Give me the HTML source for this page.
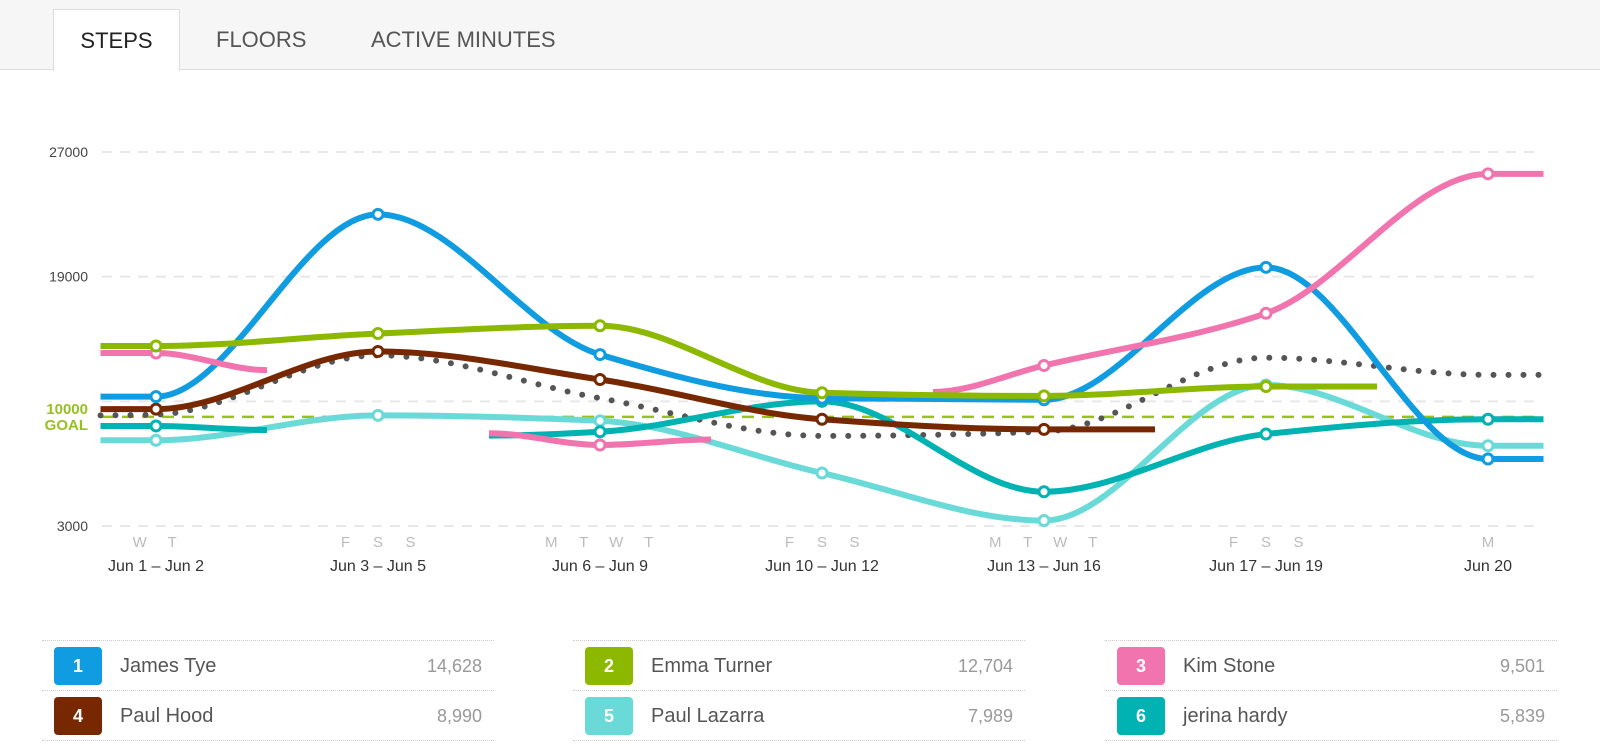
<!DOCTYPE html>
<html><head><meta charset="utf-8"><style>
body{margin:0;width:1600px;height:744px;background:#fff;font-family:"Liberation Sans",sans-serif;overflow:hidden;position:relative}
.tabbar{position:absolute;left:0;top:0;width:1600px;height:69px;background:#f6f6f6;border-bottom:1px solid #ddd}
.tab{position:absolute;top:0;height:69px;line-height:80px;font-size:22px;color:#555}
.tab.active{top:9px;height:61px;line-height:62px;background:#fff;border:1px solid #ddd;border-bottom:none;left:53px;width:125px;text-align:center;color:#222}
.col{position:absolute;width:452px}
.row{position:relative;height:49px;border-top:1px dotted #ccc}
.row:last-child{border-bottom:1px dotted #ccc}
.badge{position:absolute;left:12px;top:6px;width:48px;height:38px;border-radius:4px;color:#fff;font-weight:bold;font-size:18px;text-align:center;line-height:38px}
.nm{position:absolute;left:78px;top:14px;font-size:20px;color:#555}
.val{position:absolute;right:12px;top:15px;font-size:18px;color:#999}
</style></head><body>
<div class="tabbar">
<div class="tab active">STEPS</div>
<div class="tab" style="left:216px">FLOORS</div>
<div class="tab" style="left:371px">ACTIVE MINUTES</div>
</div>
<svg id="chart" width="1600" height="600" style="position:absolute;left:0;top:0"></svg>
<div class="col" style="left:42px;top:640px">
<div class="row"><div class="badge" style="background:#0f9ce0">1</div><div class="nm">James Tye</div><div class="val">14,628</div></div>
<div class="row"><div class="badge" style="background:#772800">4</div><div class="nm">Paul Hood</div><div class="val">8,990</div></div>
</div>
<div class="col" style="left:573px;top:640px">
<div class="row"><div class="badge" style="background:#8cb800">2</div><div class="nm">Emma Turner</div><div class="val">12,704</div></div>
<div class="row"><div class="badge" style="background:#6adad8">5</div><div class="nm">Paul Lazarra</div><div class="val">7,989</div></div>
</div>
<div class="col" style="left:1105px;top:640px">
<div class="row"><div class="badge" style="background:#f274ae">3</div><div class="nm">Kim Stone</div><div class="val">9,501</div></div>
<div class="row"><div class="badge" style="background:#00b2b2">6</div><div class="nm">jerina hardy</div><div class="val">5,839</div></div>
</div>
<script>
const groupLabels=["Jun 1 – Jun 2","Jun 3 – Jun 5","Jun 6 – Jun 9","Jun 10 – Jun 12","Jun 13 – Jun 16","Jun 17 – Jun 19","Jun 20"];
const dayLetters=[["W","T"],["F","S","S"],["M","T","W","T"],["F","S","S"],["M","T","W","T"],["F","S","S"],["M"]];
const yTicks=[27000,19000,3000];
const goalValue=10000;
const jamesIdx=[-0.25,0,1,2,3,4,5,6,6.25];
const jamesVal=[11300,11300,23000,14000,11200,11100,19600,7300,7300];
const emmaIdx=[-0.25,0,1,2,3,4,5,5.5];
const emmaVal=[14550,14550,15350,15850,11550,11350,11950,11950];
const kimIdx1=[-0.25,0,0.5];
const kimVal1=[14100,14100,13000];
const kimIdx2=[1.5,2,2.5];
const kimVal2=[8950,8200,8550];
const kimIdx3=[3.5,4,5,6,6.25];
const kimVal3=[11600,13300,16650,25600,25600];
const hoodIdx=[-0.25,0,1,2,3,4,4.5];
const hoodVal=[10500,10500,14200,12400,9850,9200,9200];
const lazIdx=[-0.25,0,1,2,3,4,5,6,6.25];
const lazVal=[8500,8500,10100,9750,6400,3350,12050,8150,8150];
const jerIdx1=[-0.25,0,0.5];
const jerVal1=[9420,9420,9160];
const jerIdx2=[1.5,2,3,4,5,6,6.25];
const jerVal2=[8800,9050,11000,5200,8900,9850,9850];
const avgIdx=[-0.25,0,1,2,3,4,5,6,6.25];
const avgVal=[10100,10150,13950,11200,8780,9050,13800,12700,12700];

const NS="http://www.w3.org/2000/svg";
const svg=document.getElementById('chart');
const X=i=>156+i*222;
const Y=v=>152+(27000-v)*374/24000;
function mk(t,a,p){const e=document.createElementNS(NS,t);for(const k in a)e.setAttribute(k,a[k]);(p||svg).appendChild(e);return e;}
function path(idx,val){
 const xs=idx.map(X),ys=val.map(Y),n=xs.length;
 const d=[],m=[];
 for(let i=0;i<n-1;i++)d.push((ys[i+1]-ys[i])/(xs[i+1]-xs[i]));
 for(let i=0;i<n;i++){
  if(i==0)m.push(d[0]);else if(i==n-1)m.push(d[n-2]);
  else m.push(d[i-1]*d[i]<=0?0:(2*d[i-1]*d[i])/(d[i-1]+d[i]));
 }
 if(n>1){m[0]=0;m[n-1]=0;}
 let s="M"+xs[0]+","+ys[0];
 for(let i=0;i<n-1;i++){const h=(xs[i+1]-xs[i])/3;
  s+=" C"+(xs[i]+h)+","+(ys[i]+m[i]*h)+" "+(xs[i+1]-h)+","+(ys[i+1]-m[i+1]*h)+" "+xs[i+1]+","+ys[i+1];}
 return s;
}
const gridVals=[27000,19000,11000,3000];
gridVals.forEach(v=>{const g=mk('line',{x1:102,x2:1542,y1:Y(v),y2:Y(v),stroke:'#e8e8e8','stroke-width':2,'stroke-dasharray':'10 8'});
});
yTicks.forEach(v=>{const t=mk('text',{x:88,y:Y(v)+5,'text-anchor':'end','font-size':14,fill:'#444'});t.textContent=v;
});
const gl=mk('line',{x1:102,x2:1542,y1:Y(goalValue),y2:Y(goalValue),stroke:'#97c11f','stroke-width':2.5,'stroke-dasharray':'12 8'});

const gt=mk('text',{x:88,y:Y(goalValue)-3,'text-anchor':'end','font-size':15,'font-weight':'bold',fill:'#97c11f'});gt.textContent=goalValue;

const gt2=mk('text',{x:88,y:Y(goalValue)+13,'text-anchor':'end','font-size':15,'font-weight':'bold',fill:'#97c11f'});gt2.textContent='GOAL';

groupLabels.forEach((l,i)=>{const t=mk('text',{x:X(i),y:571,'text-anchor':'middle','font-size':16,fill:'#333'});t.textContent=l;

const ds=dayLetters[i],c=(ds.length-1)/2;
ds.forEach((dl,j)=>{const u=mk('text',{x:X(i)+(j-c)*32.5,y:547,'text-anchor':'middle','font-size':15,fill:'#bbb'});u.textContent=dl;
});});
const av=mk('path',{d:path(avgIdx,avgVal),fill:'none',stroke:'#555','stroke-width':6,'stroke-linecap':'round','stroke-dasharray':'0 15'});

function series(name,color,segs){
 segs.forEach(([idx,val])=>{const p=mk('path',{d:path(idx,val),fill:'none',stroke:color,'stroke-width':6});
 
 idx.forEach((ix,k)=>{if(Number.isInteger(ix)){const c=mk('circle',{cx:X(ix),cy:Y(val[k]),r:5,fill:'#fff',stroke:color,'stroke-width':3});
 }});});
}
series('paul-lazarra','#6adad8',[[lazIdx,lazVal]]);
series('jerina-hardy','#00b2b2',[[jerIdx1,jerVal1],[jerIdx2,jerVal2]]);
series('paul-hood','#772800',[[hoodIdx,hoodVal]]);
series('james-tye','#0f9ce0',[[jamesIdx,jamesVal]]);
series('kim-stone','#f274ae',[[kimIdx1,kimVal1],[kimIdx2,kimVal2],[kimIdx3,kimVal3]]);
series('emma-turner','#8cb800',[[emmaIdx,emmaVal]]);
</script>
</body></html>
